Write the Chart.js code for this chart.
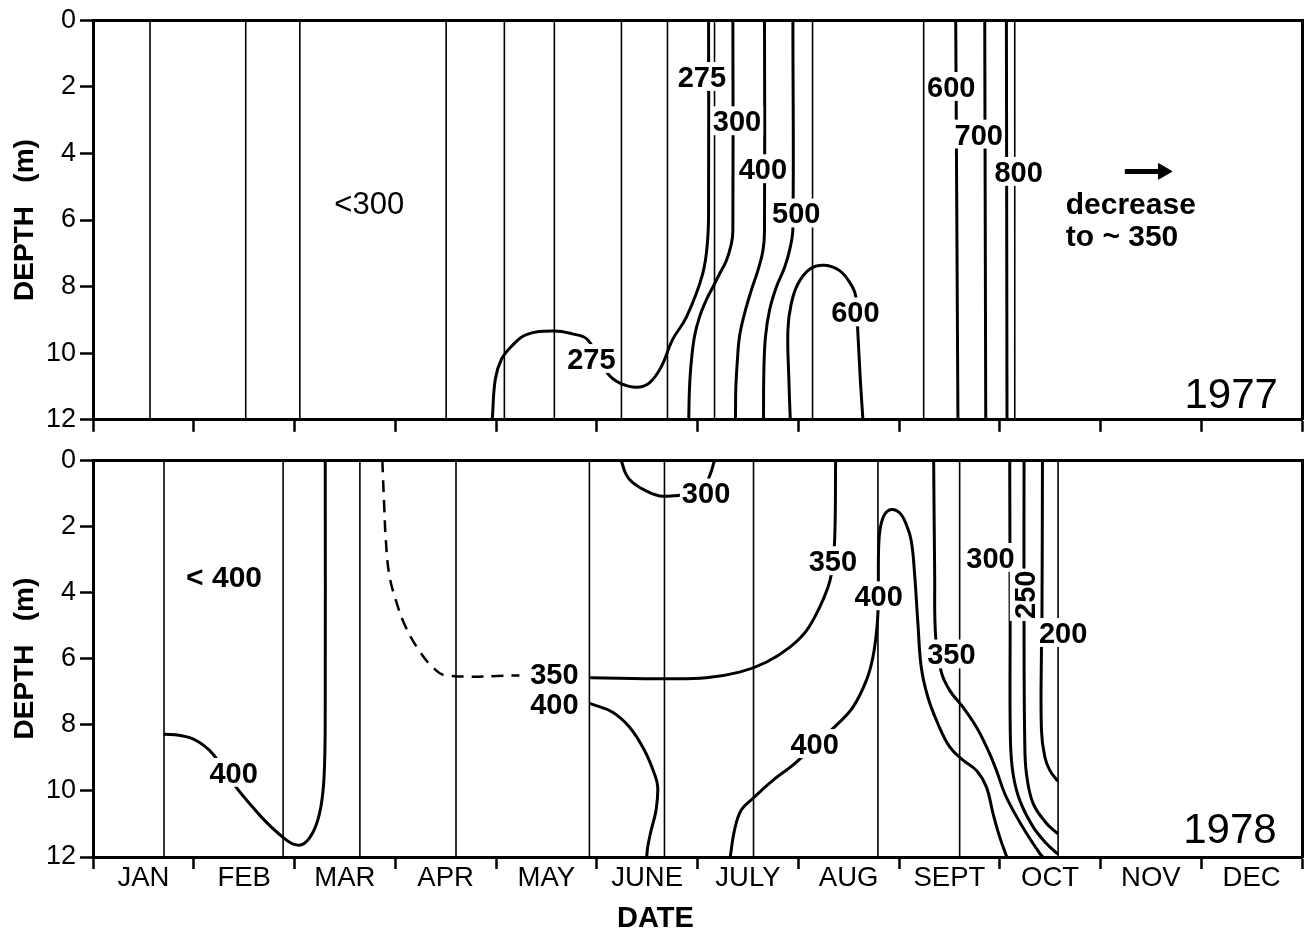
<!DOCTYPE html>
<html>
<head>
<meta charset="utf-8">
<script src="https://cdn.jsdelivr.net/npm/chart.js@4.4.1/dist/chart.umd.min.js"></script>
<style>
  html, body { margin: 0; padding: 0; background: #fff; }
  #wrap { position: relative; width: 1304px; height: 934px; overflow: hidden; background: #fff; }
  canvas { position: absolute; left: 0; }
  #c77 { top: 0; }
  #c78 { top: 440px; }
</style>
</head>
<body>
<div id="wrap">
  <canvas id="c77" width="1304" height="440"></canvas>
  <canvas id="c78" width="1304" height="494"></canvas>
</div>
<script>
// ---- axis labels -------------------------------------------------------
const MONTHS = ['JAN', 'FEB', 'MAR', 'APR', 'MAY', 'JUNE', 'JULY', 'AUG', 'SEPT', 'OCT', 'NOV', 'DEC'];
const DEPTH_STEP = 2;

// ---- sampling dates (months from 1 January) ------------------------------
const stations1977 = [0.566, 1.516, 2.053, 3.505, 4.083, 4.579, 5.245, 5.702, 6.169, 7.142, 8.245, 9.149];
const stations1978 = [0.705, 1.887, 2.649, 3.603, 4.927, 5.672, 6.556, 7.791, 8.602, 9.579];

// ---- isopleths 1977: [month, depth m] ------------------------------------
const iso77_275 = [[3.963, 12], [3.993, 10.78], [4.053, 10.19], [4.152, 9.80], [4.301, 9.44], [4.579, 9.33],
  [4.758, 9.42], [4.907, 9.59], [5.106, 10.60], [5.225, 10.89], [5.394, 11.02], [5.523, 10.89], [5.642, 10.40],
  [5.751, 9.60], [5.891, 8.91], [6.050, 7.63], [6.100, 6.62], [6.110, 5.35], [6.110, 0]];
const iso77_300 = [[6.351, 0], [6.351, 6.34], [6.335, 6.73], [6.285, 7.23], [6.218, 7.62], [6.152, 8.02],
  [6.086, 8.41], [6.020, 8.91], [5.970, 9.50], [5.937, 10.30], [5.920, 11.09], [5.913, 12]];
const iso77_400 = [[6.665, 0], [6.665, 6.34], [6.649, 6.93], [6.599, 7.52], [6.533, 8.12], [6.467, 8.81],
  [6.417, 9.50], [6.394, 10.30], [6.380, 11.09], [6.377, 12]];
const iso77_500 = [[6.947, 0], [6.947, 6.24], [6.920, 6.83], [6.864, 7.43], [6.782, 8.02], [6.715, 8.71],
  [6.675, 9.50], [6.659, 10.49], [6.655, 12]];
const iso77_600a = [[6.921, 12], [6.907, 10.79], [6.897, 9.31], [6.930, 8.52], [6.996, 7.92], [7.116, 7.47],
  [7.262, 7.36], [7.410, 7.52], [7.510, 7.87], [7.569, 8.27], [7.592, 9.41], [7.616, 10.79], [7.642, 12]];
const iso77_600b = [[8.563, 0], [8.585, 12]];
const iso77_700 = [[8.851, 0], [8.861, 12]];
const iso77_800 = [[9.066, 0], [9.072, 12]];
const arrow77 = [[10.241, 4.54], [10.62, 4.54]];

// contour values: [text, month, depth]
const values1977 = [['275', 6.044, 1.69], ['300', 6.392, 3.02], ['400', 6.649, 4.46], ['500', 6.980, 5.79],
  ['275', 4.947, 10.16], ['600', 7.567, 8.76], ['600', 8.519, 1.99], ['700', 8.792, 3.42], ['800', 9.187, 4.54]];
// remarks: [text, month, depth, style]
const notes1977 = [['<300', 2.742, 5.49, 'plain'], ['decrease', 9.655, 5.49, 'boldLeft'],
  ['to ~ 350', 9.655, 6.47, 'boldLeft'], ['1977', 11.761, 11.2, 'year']];

// ---- isopleths 1978 -------------------------------------------------------
const iso78_400a = [[0.712, 8.29], [0.854, 8.32], [1.020, 8.47], [1.185, 8.87], [1.418, 9.88], [1.582, 10.48],
  [1.715, 10.93], [1.880, 11.39], [1.997, 11.62], [2.096, 11.59], [2.195, 11.18], [2.262, 10.48], [2.295, 9.48],
  [2.305, 7.47], [2.305, 0]];
const iso78_350dashed = [[2.872, 0], [2.891, 1.44], [2.907, 2.44], [2.940, 3.45], [3.007, 4.25], [3.106, 5.06],
  [3.238, 5.76], [3.371, 6.26], [3.504, 6.51], [4.232, 6.51]];
const iso78_350a = [[4.944, 6.58], [5.689, 6.61], [6.086, 6.58], [6.417, 6.41], [6.682, 6.11], [6.914, 5.66],
  [7.080, 5.16], [7.212, 4.45], [7.294, 3.85], [7.328, 3.45], [7.361, 2.44], [7.371, 0]];
const iso78_400b = [[4.944, 7.37], [5.158, 7.62], [5.324, 8.07], [5.473, 8.77], [5.572, 9.48], [5.605, 9.88],
  [5.589, 10.58], [5.540, 11.19], [5.506, 11.69], [5.496, 12]];
const iso78_300a = [[5.242, 0], [5.291, 0.43], [5.357, 0.68], [5.490, 0.93], [5.655, 1.09], [5.920, 1.0],
  [6.069, 0.75], [6.126, 0.43], [6.169, 0]];
const iso78_400c = [[6.325, 12], [6.367, 11.19], [6.434, 10.58], [6.549, 10.23], [6.748, 9.68], [6.947, 9.22],
  [7.162, 8.62], [7.377, 8.02], [7.543, 7.47], [7.676, 6.66], [7.741, 5.96], [7.781, 5.06], [7.795, 4.25],
  [7.795, 3.75], [7.798, 2.64], [7.815, 2.04], [7.857, 1.64], [7.924, 1.49], [8.006, 1.59], [8.072, 1.94],
  [8.122, 2.44], [8.155, 3.45], [8.188, 4.95], [8.221, 6.26], [8.287, 7.17], [8.386, 7.97], [8.503, 8.67],
  [8.635, 9.07], [8.768, 9.38], [8.867, 9.88], [8.933, 10.68], [8.999, 11.39], [9.07, 12]];
const iso78_350b = [[8.344, 0], [8.354, 3.45], [8.364, 5.36], [8.420, 6.41], [8.503, 6.96], [8.635, 7.47],
  [8.768, 8.07], [8.884, 8.77], [8.967, 9.38], [9.049, 10.08], [9.149, 10.68], [9.265, 11.28], [9.397, 11.89],
  [9.43, 12]];
const iso78_300b = [[9.099, 0], [9.103, 5.0], [9.106, 8.47], [9.132, 9.48], [9.198, 10.28], [9.331, 11.09],
  [9.463, 11.59], [9.569, 11.89]];
const iso78_250 = [[9.241, 0], [9.241, 5.06], [9.248, 8.47], [9.265, 9.48], [9.331, 10.38], [9.463, 10.98],
  [9.569, 11.28]];
const iso78_200 = [[9.424, 0], [9.419, 4.75], [9.414, 5.66], [9.414, 8.17], [9.447, 8.97], [9.497, 9.38],
  [9.569, 9.68]];

const values1978 = [['300', 6.085, 0.99], ['350', 4.579, 6.46], ['400', 4.579, 7.37], ['350', 7.344, 3.04],
  ['400', 7.798, 4.10], ['400', 7.162, 8.57], ['400', 1.396, 9.44], ['350', 8.520, 5.86], ['300', 8.908, 2.94],
  ['250', 9.243, 4.07, 'vertical'], ['200', 9.629, 5.21]];
const notes1978 = [['< 400', 1.301, 3.50, 'bold'], ['1978', 11.748, 11.13, 'year']];
const X_TITLE = ['DATE', 5.583];

// ---- drawing helpers -------------------------------------------------------
const FONT = '"Liberation Sans", Arial, Helvetica, sans-serif';
Chart.defaults.font.family = FONT;
Chart.defaults.color = '#000';

const TEXT_STYLES = {
  value:    { font: 'bold 29px ' + FONT, align: 'center', box: true },
  vertical: { font: 'bold 29px ' + FONT, align: 'center', box: true, rotate: -Math.PI / 2 },
  plain:    { font: '31px ' + FONT, align: 'center' },
  bold:     { font: 'bold 30px ' + FONT, align: 'center' },
  boldLeft: { font: 'bold 30px ' + FONT, align: 'left' },
  year:     { font: '42px ' + FONT, align: 'right' },
  title:    { font: 'bold 29px ' + FONT, align: 'center' }
};

function drawText(ctx, text, px, py, style) {
  const size = parseFloat(style.font.match(/(\d+)px/)[1]);
  const cap = size * 0.72;
  ctx.save();
  ctx.font = style.font;
  ctx.translate(px, py);
  if (style.rotate) ctx.rotate(style.rotate);
  const w = ctx.measureText(text).width;
  const left = style.align === 'center' ? -w / 2 : style.align === 'right' ? -w : 0;
  if (style.box) {
    ctx.fillStyle = '#fff';
    ctx.fillRect(left - 2, -cap / 2 - 4, w + 4, cap + 8);
  }
  ctx.fillStyle = '#000';
  ctx.textAlign = style.align;
  ctx.textBaseline = 'alphabetic';
  ctx.fillText(text, 0, cap / 2);
  ctx.restore();
}

function textPlugin(values, notes, xTitle) {
  return {
    id: 'panelText',
    afterDatasetsDraw(chart) {
      const { ctx, scales: { x, y }, chartArea } = chart;
      values.forEach(([t, m, d, kind]) => {
        drawText(ctx, t, x.getPixelForValue(m), y.getPixelForValue(d), TEXT_STYLES[kind || 'value']);
      });
      notes.forEach(([t, m, d, kind]) => {
        drawText(ctx, t, x.getPixelForValue(m), y.getPixelForValue(d), TEXT_STYLES[kind]);
      });
      if (xTitle) {
        drawText(ctx, xTitle[0], x.getPixelForValue(xTitle[1]), chartArea.bottom + 60, TEXT_STYLES.title);
      }
    }
  };
}

const toXY = pts => pts.map(([x, y]) => ({ x, y }));

function isopleth(pts, extra) {
  return Object.assign({
    type: 'line', xAxisID: 'x', yAxisID: 'y',
    data: toXY(pts), borderColor: '#000', borderWidth: 3,
    pointRadius: 0, pointHoverRadius: 0, tension: 0.4, fill: false,
    borderCapStyle: 'round', borderJoinStyle: 'round'
  }, extra || {});
}

function stationLine(m) {
  return {
    type: 'line', xAxisID: 'x', yAxisID: 'y',
    data: toXY([[m, 0], [m, 12]]), borderColor: '#000', borderWidth: 1.6,
    pointRadius: 0, pointHoverRadius: 0, tension: 0, fill: false
  };
}

function panelScales(showMonths, xHeight) {
  const frame = { display: true, color: '#000', width: 3 };
  return {
    x: {
      type: 'linear', axis: 'x', position: 'bottom', min: 0, max: 12,
      afterBuildTicks: s => { s.ticks = Array.from({ length: 25 }, (_, i) => ({ value: i / 2 })); },
      afterFit: s => { s.height = xHeight; },
      ticks: {
        autoSkip: false, maxRotation: 0, minRotation: 0, padding: -7, font: { size: 27.5 },
        callback: v => (showMonths && v % 1 === 0.5) ? MONTHS[Math.floor(v)] : ''
      },
      grid: {
        drawOnChartArea: false, drawTicks: true, tickLength: 12, tickWidth: 2.5,
        tickColor: c => (c.tick && Number.isInteger(c.tick.value)) ? '#000' : 'rgba(0,0,0,0)'
      },
      border: frame
    },
    y: {
      type: 'linear', axis: 'y', position: 'left', min: 0, max: 12, reverse: true,
      afterFit: s => { s.width = 93; },
      ticks: { stepSize: DEPTH_STEP, padding: 4, font: { size: 27 } },
      grid: { drawOnChartArea: false, drawTicks: true, tickLength: 13, tickWidth: 2.5, tickColor: '#000' },
      border: frame,
      title: { display: true, text: 'DEPTH   (m)', font: { size: 28, weight: 'bold' }, padding: { top: 8, bottom: 0 } }
    },
    xTop: {
      type: 'linear', axis: 'x', position: 'top', min: 0, max: 12,
      ticks: { display: false }, grid: { display: false, drawTicks: false }, border: frame,
      afterFit: s => { s.height = 0; }
    },
    yRight: {
      type: 'linear', axis: 'y', position: 'right', min: 0, max: 12, reverse: true,
      ticks: { display: false }, grid: { display: false, drawTicks: false }, border: frame,
      afterFit: s => { s.width = 0; }
    }
  };
}

function baseOptions(scales, padTop) {
  return {
    responsive: false, animation: false, devicePixelRatio: 1, events: [],
    layout: { autoPadding: false, padding: { top: padTop, right: 2, left: 0, bottom: 0 } },
    plugins: { legend: { display: false }, tooltip: { enabled: false } },
    scales
  };
}

// ---- 1977 panel ---------------------------------------------------------
const sets77 = stations1977.map(stationLine).concat([
  isopleth(iso77_275), isopleth(iso77_300), isopleth(iso77_400), isopleth(iso77_500),
  isopleth(iso77_600a), isopleth(iso77_600b, { tension: 0 }), isopleth(iso77_700, { tension: 0 }),
  isopleth(iso77_800, { tension: 0 }),
  isopleth(arrow77, {
    tension: 0, borderWidth: 5, borderCapStyle: 'butt',
    pointRadius: [0, 9], pointStyle: 'triangle', pointRotation: 90,
    pointBackgroundColor: '#000', pointBorderColor: '#000', pointBorderWidth: 1
  })
]);

new Chart(document.getElementById('c77'), {
  type: 'line',
  data: { datasets: sets77 },
  options: baseOptions(panelScales(false, 16), 20),
  plugins: [textPlugin(values1977, notes1977, null)]
});

// ---- 1978 panel ---------------------------------------------------------
const sets78 = stations1978.map(stationLine).concat([
  isopleth(iso78_400a), isopleth(iso78_350dashed, { borderDash: [12, 8], borderCapStyle: 'butt', borderWidth: 2.5 }),
  isopleth(iso78_350a), isopleth(iso78_400b), isopleth(iso78_300a), isopleth(iso78_400c),
  isopleth(iso78_350b), isopleth(iso78_300b), isopleth(iso78_250), isopleth(iso78_200)
]);

new Chart(document.getElementById('c78'), {
  type: 'line',
  data: { datasets: sets78 },
  options: baseOptions(panelScales(true, 77), 19),
  plugins: [textPlugin(values1978, notes1978, X_TITLE)]
});
</script>
</body>
</html>
